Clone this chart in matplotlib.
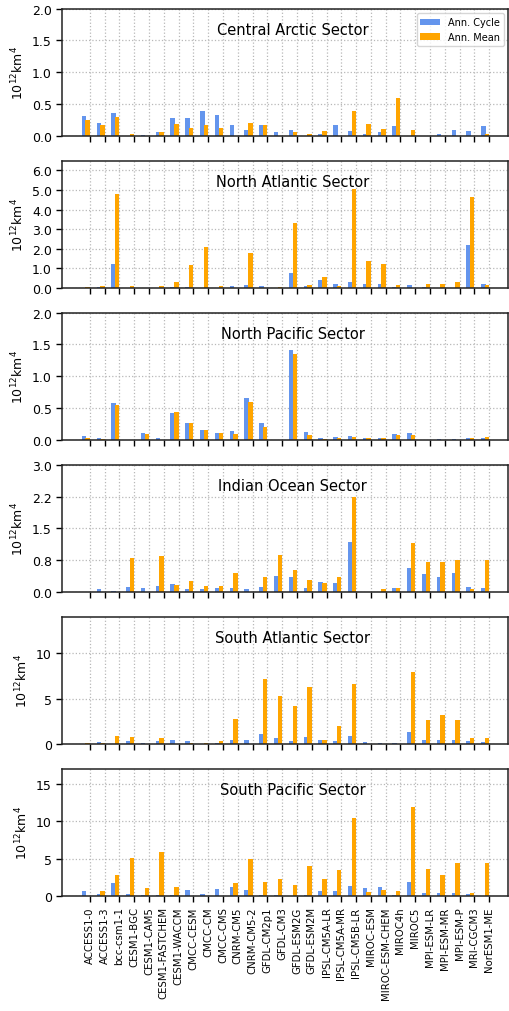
import matplotlib
matplotlib.use('Agg')
import matplotlib.pyplot as plt
import numpy as np
from matplotlib.ticker import FormatStrFormatter

models = ['ACCESS1-0', 'ACCESS1-3', 'bcc-csm1-1', 'CESM1-BGC', 'CESM1-CAM5',
          'CESM1-FASTCHEM', 'CESM1-WACCM', 'CMCC-CESM', 'CMCC-CM', 'CMCC-CMS',
          'CNRM-CM5', 'CNRM-CM5-2', 'GFDL-CM2p1', 'GFDL-CM3', 'GFDL-ESM2G',
          'GFDL-ESM2M', 'IPSL-CM5A-LR', 'IPSL-CM5A-MR', 'IPSL-CM5B-LR', 'MIROC-ESM',
          'MIROC-ESM-CHEM', 'MIROC4h', 'MIROC5', 'MPI-ESM-LR', 'MPI-ESM-MR',
          'MPI-ESM-P', 'MRI-CGCM3', 'NorESM1-ME']

# annual cycle / annual mean, 10^12 km^4
arctic_cyc = [0.305, 0.2, 0.35, 0.0, 0.015, 0.05, 0.28, 0.28, 0.39, 0.32,
              0.165, 0.095, 0.17, 0.065, 0.095, 0.0, 0.025, 0.17, 0.07, 0.025,
              0.05, 0.15, 0.0, 0.0, 0.02, 0.095, 0.08, 0.145]
arctic_mean = [0.25, 0.17, 0.29, 0.025, 0.0, 0.065, 0.18, 0.115, 0.16, 0.125,
               0.0, 0.2, 0.17, 0.0, 0.05, 0.025, 0.08, 0.0, 0.385, 0.18,
               0.105, 0.6, 0.095, 0.0, 0.0, 0.0, 0.0, 0.02]

natl_cyc = [0.0, 0.03, 1.22, 0.0, 0.01, 0.0, 0.03, 0.03, 0.0, 0.0,
            0.1, 0.15, 0.1, 0.0, 0.76, 0.1, 0.38, 0.19, 0.28, 0.21,
            0.17, 0.03, 0.12, 0.02, 0.01, 0.0, 2.19, 0.2]
natl_mean = [0.02, 0.1, 4.79, 0.09, 0.01, 0.07, 0.29, 1.17, 2.07, 0.07,
             0.0, 1.79, 0.0, 0.02, 3.31, 0.15, 0.55, 0.07, 5.05, 1.38,
             1.22, 0.15, 0.0, 0.2, 0.17, 0.28, 4.64, 0.13]

npac_cyc = [0.053, 0.03, 0.585, 0.0, 0.11, 0.02, 0.42, 0.26, 0.15, 0.11,
            0.14, 0.65, 0.26, 0.0, 1.415, 0.13, 0.02, 0.04, 0.058, 0.026,
            0.026, 0.095, 0.11, 0.0, 0.015, 0.015, 0.02, 0.02]
npac_mean = [0.026, 0.01, 0.54, 0.0, 0.09, 0.0, 0.44, 0.26, 0.15, 0.11,
             0.09, 0.59, 0.205, 0.0, 1.35, 0.08, 0.015, 0.02, 0.042, 0.02,
             0.02, 0.074, 0.08, 0.0, 0.0, 0.0, 0.02, 0.042]

ind_cyc = [0.0, 0.07, 0.02, 0.12, 0.095, 0.126, 0.174, 0.063, 0.055, 0.087,
           0.095, 0.07, 0.11, 0.38, 0.355, 0.095, 0.237, 0.213, 1.176, 0.0,
           0.0, 0.095, 0.553, 0.418, 0.355, 0.434, 0.11, 0.087]
ind_mean = [0.0, 0.0, 0.0, 0.79, 0.0, 0.845, 0.158, 0.245, 0.126, 0.126,
            0.44, 0.0, 0.34, 0.86, 0.51, 0.28, 0.197, 0.347, 2.234, 0.0,
            0.063, 0.095, 1.152, 0.71, 0.71, 0.75, 0.07, 0.742]

satl_cyc = [0.0, 0.18, 0.0, 0.29, 0.15, 0.29, 0.4, 0.29, 0.0, 0.11,
            0.4, 0.44, 1.1, 0.7, 0.37, 0.81, 0.4, 0.33, 0.85, 0.18,
            0.15, 0.11, 1.36, 0.4, 0.4, 0.44, 0.33, 0.18]
satl_mean = [0.11, 0.11, 0.85, 0.74, 0.0, 0.63, 0.0, 0.11, 0.15, 0.29,
             2.79, 0.0, 7.2, 5.29, 4.19, 6.25, 0.4, 1.95, 6.65, 0.0,
             0.0, 0.0, 7.9, 2.65, 3.2, 2.68, 0.66, 0.63]

spac_cyc = [0.71, 0.31, 1.74, 0.22, 0.09, 0.18, 0.09, 0.76, 0.22, 0.94,
            1.2, 0.8, 0.13, 0.13, 0.0, 0.13, 0.71, 0.71, 1.3, 1.03,
            1.16, 0.18, 1.83, 0.4, 0.4, 0.4, 0.31, 0.0]
spac_mean = [0.0, 0.63, 2.77, 5.09, 1.07, 5.94, 1.25, 0.0, 0.0, 0.0,
             1.74, 4.96, 1.83, 2.32, 1.43, 3.97, 2.32, 3.53, 10.45, 0.49,
             0.8, 0.71, 11.96, 3.62, 2.86, 4.46, 0.4, 4.46]

sectors = ['Central Arctic Sector', 'North Atlantic Sector', 'North Pacific Sector',
           'Indian Ocean Sector', 'South Atlantic Sector', 'South Pacific Sector']
cycles = [arctic_cyc, natl_cyc, npac_cyc, ind_cyc, satl_cyc, spac_cyc]
means = [arctic_mean, natl_mean, npac_mean, ind_mean, satl_mean, spac_mean]
ymaxs = [2.0, 6.5, 2.0, 3.0, 14, 17]

fig, axes = plt.subplots(6, 1, figsize=(5.1, 10.12), dpi=100)
fig.subplots_adjust(left=0.122, right=0.997, top=0.9905, bottom=0.1137, hspace=0.197)

ind = np.arange(len(models))
w = 0.3

for k, ax in enumerate(axes):
    ax.bar(ind - 0.4, cycles[k], w, color='cornflowerblue', label='Ann. Cycle')
    ax.bar(ind - 0.15, means[k], w, color='orange', label='Ann. Mean')
    ax.set_xlim(-1.87, 28.3)
    ax.set_ylim(0, ymaxs[k])
    ax.set_axisbelow(True)
    ax.grid(True, linestyle=':', color='#b8b8b8', linewidth=0.9)
    ax.set_xticks(ind)
    ax.text(0.516, 0.835, sectors[k], transform=ax.transAxes,
            ha='center', va='center', fontsize=10.5)
    ax.set_ylabel('10$^{12}$km$^4$', fontsize=9)
    ax.tick_params(axis='both', labelsize=9, length=4, width=1)
    for s in ax.spines.values():
        s.set_linewidth(1.1)
        s.set_color('#222222')
    if k < 5:
        ax.set_xticklabels([])
    else:
        ax.set_xticklabels(models, rotation=90, fontsize=7.3)

axes[0].set_yticks(np.linspace(0, 2, 5))
axes[1].set_yticks(np.arange(0, 7, 1.0))
axes[2].set_yticks(np.linspace(0, 2, 5))
axes[3].set_yticks(np.linspace(0, 3, 5))
axes[4].set_yticks([0, 5, 10])
axes[5].set_yticks([0, 5, 10, 15])
for ax in axes[:4]:
    ax.yaxis.set_major_formatter(FormatStrFormatter('%.1f'))

axes[0].legend(loc='upper right', fontsize=7)

plt.savefig('out.png')
